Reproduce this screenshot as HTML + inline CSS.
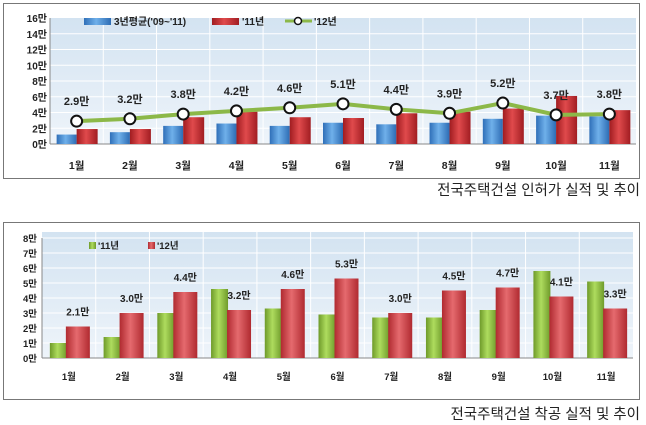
<!DOCTYPE html>
<html><head><meta charset="utf-8"><style>
body{margin:0;background:#fff;width:646px;height:425px;overflow:hidden}
svg{display:block}
text{font-family:"Liberation Sans","Noto Sans CJK KR",sans-serif}
</style></head><body>
<svg id="s" width="646" height="425" xmlns="http://www.w3.org/2000/svg">
<defs>
<linearGradient id="bg" x1="0" y1="0" x2="0" y2="1"><stop offset="0" stop-color="#d3e3f1"/><stop offset="1" stop-color="#eef4fa"/></linearGradient>
<linearGradient id="bl" x1="0" y1="0" x2="1" y2="0"><stop offset="0" stop-color="#2f6fb8"/><stop offset=".45" stop-color="#6fb0ea"/><stop offset="1" stop-color="#2d6cb4"/></linearGradient>
<linearGradient id="rd" x1="0" y1="0" x2="1" y2="0"><stop offset="0" stop-color="#a01c20"/><stop offset=".45" stop-color="#e04a4c"/><stop offset="1" stop-color="#a11d22"/></linearGradient>
<linearGradient id="gr" x1="0" y1="0" x2="1" y2="0"><stop offset="0" stop-color="#6e9a2a"/><stop offset=".45" stop-color="#aedc5e"/><stop offset="1" stop-color="#6f9b2b"/></linearGradient>
<linearGradient id="rd2" x1="0" y1="0" x2="1" y2="0"><stop offset="0" stop-color="#b02a30"/><stop offset=".45" stop-color="#e56a6e"/><stop offset="1" stop-color="#b02a30"/></linearGradient>
</defs>
<rect x="3.5" y="3.5" width="636" height="175" fill="#fff" stroke="#777"/>
<rect x="3.5" y="222.5" width="636" height="177" fill="#fff" stroke="#777"/>
<g id="g"></g>
<text x="640" y="195" font-size="14.5" text-anchor="end" fill="#222">전국주택건설 인허가 실적 및 추이</text>
<text x="640" y="419" font-size="14.5" text-anchor="end" fill="#222">전국주택건설 착공 실적 및 추이</text>
</svg>
<script>
var g=document.getElementById('g'),h='';
function R(x,y,w,hh,f,e){h+='<rect x="'+x+'" y="'+y+'" width="'+w+'" height="'+hh+'" fill="'+f+'" '+(e||'')+'/>';}
function T(x,y,t,s,a){h+='<text x="'+x+'" y="'+y+'" font-size="'+(s||10)+'" font-weight="bold" text-anchor="'+(a||'middle')+'" fill="#222">'+t+'</text>';}
// chart 1
var L=50,Rt=636,B=144,Tp=18,cw=(Rt-L)/11,u=(B-Tp)/16;
R(L,Tp,Rt-L,B-Tp,'url(#bg)');
for(var i=1;i<8;i++)h+='<line x1="'+L+'" x2="'+Rt+'" y1="'+(B-i*2*u)+'" y2="'+(B-i*2*u)+'" stroke="#fff"/>';
for(i=1;i<11;i++)h+='<line x1="'+(L+i*cw)+'" x2="'+(L+i*cw)+'" y1="'+Tp+'" y2="'+B+'" stroke="#fff"/>';
h+='<line x1="'+L+'" x2="'+L+'" y1="'+Tp+'" y2="'+B+'" stroke="#888"/><line x1="'+L+'" x2="'+Rt+'" y1="'+B+'" y2="'+B+'" stroke="#888"/>';
for(i=0;i<=8;i++)T(L-3,B-i*2*u+4,(i*2)+'만',10,'end');
var b1=[1.2,1.5,2.3,2.6,2.3,2.7,2.5,2.7,3.2,3.6,3.5],r1=[1.9,1.9,3.4,4.1,3.4,3.3,3.9,4.1,4.5,6.1,4.3],l1=[2.9,3.2,3.8,4.2,4.6,5.1,4.4,3.9,5.2,3.7,3.8];
var pts=[];
for(i=0;i<11;i++){var c=L+cw*(i+.5);
R(c-20,B-b1[i]*u,20,b1[i]*u,'url(#bl)');
R(c,B-r1[i]*u,21,r1[i]*u,'url(#rd)');
pts.push(c.toFixed(2)+','+(B-l1[i]*u).toFixed(2));
T(c,169,(i+1)+'월',10.5);}
h+='<polyline points="'+pts.join(' ')+'" fill="none" stroke="#8cb848" stroke-width="4"/>';
for(i=0;i<11;i++){var c=L+cw*(i+.5),y=B-l1[i]*u;
h+='<circle cx="'+c+'" cy="'+y+'" r="5.5" fill="#fff" stroke="#111" stroke-width="2"/>';
T(c,y-16,l1[i].toFixed(1)+'만',11);}
R(84,18,27,7,'url(#bl)');T(114,25,'3년평균(\'09~\'11)',10,'start');
R(212,18,27,7,'url(#rd)');T(242,25,'\'11년',10,'start');
h+='<line x1="285" x2="312" y1="21" y2="21" stroke="#8cb848" stroke-width="3"/><circle cx="298" cy="21" r="3.5" fill="#fff" stroke="#111" stroke-width="1.5"/>';T(314,25,'\'12년',10,'start');
// chart 2
L=42;Rt=633;B=358;Tp=238;cw=(Rt-L)/11;u=(B-Tp)/8;
R(L,Tp-6,Rt-L,B-Tp+6,'url(#bg)');
for(i=1;i<=8;i++)h+='<line x1="'+L+'" x2="'+Rt+'" y1="'+(B-i*u)+'" y2="'+(B-i*u)+'" stroke="#fff"/>';
for(i=1;i<11;i++)h+='<line x1="'+(L+i*cw)+'" x2="'+(L+i*cw)+'" y1="'+(Tp-6)+'" y2="'+B+'" stroke="#fff"/>';
h+='<line x1="'+L+'" x2="'+L+'" y1="'+Tp+'" y2="'+B+'" stroke="#888"/><line x1="'+L+'" x2="'+Rt+'" y1="'+B+'" y2="'+B+'" stroke="#888"/>';
for(i=0;i<=8;i++)T(L-5,B-i*u+4,i+'만',9.5,'end');
var g2=[1.0,1.4,3.0,4.6,3.3,2.9,2.7,2.7,3.2,5.8,5.1],r2=[2.1,3.0,4.4,3.2,4.6,5.3,3.0,4.5,4.7,4.1,3.3];
for(i=0;i<11;i++){var c=L+cw*(i+.5);
R(c-19,B-g2[i]*u,17,g2[i]*u,'url(#gr)');
R(c-3,B-r2[i]*u,24,r2[i]*u,'url(#rd2)');
T(c+9,B-r2[i]*u-11,r2[i].toFixed(1)+'만',10);
T(c,380,(i+1)+'월',9.5);}
R(89,242,7,7,'url(#gr)');T(98,249,'\'11년',9.5,'start');
R(148,242,7,7,'url(#rd2)');T(157,249,'\'12년',9.5,'start');
g.innerHTML=h;
</script>
</body></html>
